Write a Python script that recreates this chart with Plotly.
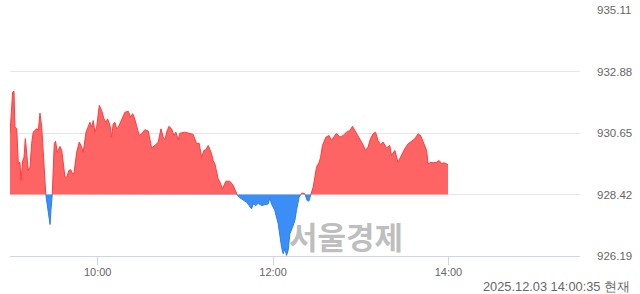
import plotly.graph_objects as go
import pandas as pd

PREV_CLOSE = 928.42
SESSION_DATE = "2025-12-03"

# minutes after 09:00
minutes = [0, 1.8, 2.7, 3.4, 4.6, 5.7, 6.8, 7.5, 8.7, 9.6, 10.5, 11.4, 12.5, 13.7, 14.8, 15.9,
           18.3, 19.4, 20.5, 21.7, 22.8, 24.4, 26, 27.4, 28, 28.9, 30.3, 31.2, 32.3, 34.2, 35.4,
           37.6, 38.8, 40.3, 41.5, 42.9, 43.8, 45.6, 47.4, 49, 50.1, 52, 53.5, 54.7, 55.9, 57,
           58.1, 59.3, 61.1, 62.7, 64.3, 65.6, 66.8, 68.4, 69.5, 70.6, 71.8, 73, 74.1, 76.4,
           78.6, 80.9, 82.5, 83.9, 85, 86.6, 88.4, 90.1, 92.3, 94.6, 96.9, 99.2, 101.4, 103.3,
           104.8, 106, 107.2, 108.7, 110.6, 112.1, 113.5, 115.1, 116.2, 119.7, 121.9, 125.3,
           127.7, 129.4, 131.1, 132.7, 134, 135.6, 137.9, 139, 140.2, 141.3, 142.4, 143.6, 145.4,
           147.7, 150.4, 152.7, 155.4, 157.3, 159.5, 161.9, 163.6, 165.3, 166.4, 168.2, 169.8,
           172.1, 174.4, 176.6, 177.8, 178.9, 181.2, 183.5, 185.8, 186.9, 188, 189.2, 190.3,
           191.5, 193.3, 194.9, 196, 197.8, 199.5, 201.7, 203.3, 204.5, 205.6, 207.4, 208.6,
           209.7, 211.5, 212.5, 213.8, 216.1, 218.3, 220, 222.2, 223.4, 225.7, 227.9, 230.2,
           232.5, 234.3, 235.9, 237.1, 239.3, 241.2, 243.2, 245, 246.6, 248.4, 250.1, 251.8,
           253.5, 255.3, 257.6, 259.8, 261, 263.3, 265.5, 267.8, 270.1, 272.4, 274.7, 277,
           279.2, 280.9, 281.8, 283.2, 285, 286.1, 288, 289.5, 291.8, 293.6, 295.4, 297, 298.6,
           299.7]

index_values = [930.63, 932.13, 932.17, 930.86, 930.81, 929.54, 929.59, 928.93, 929.65, 929.77,
                930.45, 929.90, 929.29, 929.41, 930.27, 930.68, 930.81, 930.74, 931.37, 930.86,
                929.90, 928.46, 927.84, 927.33, 927.84, 928.42, 930.27, 930.35, 929.95, 930.16,
                930.02, 929.05, 929.05, 929.29, 929.32, 929.17, 929.19, 929.95, 930.32, 930.14,
                929.95, 930.68, 930.86, 931.04, 930.86, 931.10, 930.68, 930.86, 931.65, 931.47,
                931.16, 931.04, 931.16, 930.92, 930.50, 930.98, 931.04, 930.80, 930.86, 931.16,
                931.40, 931.44, 931.22, 931.35, 931.22, 930.92, 930.56, 930.62, 930.77, 930.72,
                930.11, 930.20, 930.32, 930.80, 930.50, 930.40, 930.68, 930.89, 930.80, 930.56,
                930.68, 930.40, 930.64, 930.68, 930.64, 930.60, 930.26, 930.28, 929.77, 930.02,
                930.04, 930.20, 929.90, 929.65, 929.53, 929.29, 928.99, 928.87, 928.63, 928.90,
                928.90, 928.75, 928.41, 928.30, 928.23, 928.14, 928.02, 927.90, 928.08, 928.02,
                928.10, 928.02, 928.05, 928.08, 928.30, 928.08, 927.84, 927.36, 926.51, 926.27,
                926.45, 926.21, 926.39, 927.00, 927.23, 927.48, 927.84, 928.32, 928.47, 928.45,
                928.20, 928.18, 928.38, 928.68, 929.05, 929.41, 929.59, 929.77, 930.20, 930.50,
                930.56, 930.38, 930.56, 930.64, 930.50, 930.56, 930.68, 930.74, 930.89, 930.74,
                930.68, 930.44, 930.26, 930.02, 930.14, 930.44, 930.62, 930.68, 930.38, 930.23,
                930.32, 930.11, 930.20, 929.83, 930.02, 929.59, 929.83, 930.08, 930.26, 930.34,
                930.44, 930.62, 930.56, 930.45, 930.26, 930.02, 929.53, 929.59, 929.57, 929.59,
                929.65, 929.54, 929.57, 929.51, 929.50]

y_ticks = [926.19, 928.42, 930.65, 932.88, 935.11]
y_tick_labels = ["926.19", "928.42", "930.65", "932.88", "935.11"]
x_ticks = ["10:00", "12:00", "14:00"]
stamp_text = "2025.12.03 14:00:35 현재"
watermark_text = "서울경제"

# split into above / below previous close, adding the crossing points
xs, vs = [], []
for i in range(len(minutes)):
    if i > 0:
        v0, v1 = index_values[i - 1], index_values[i]
        if (v0 - PREV_CLOSE) * (v1 - PREV_CLOSE) < 0:
            f = (PREV_CLOSE - v0) / (v1 - v0)
            xs.append(minutes[i - 1] + f * (minutes[i] - minutes[i - 1]))
            vs.append(PREV_CLOSE)
    xs.append(minutes[i])
    vs.append(index_values[i])

base = pd.Timestamp(SESSION_DATE + " 09:00")
times = [base + pd.Timedelta(minutes=m) for m in xs]
up = [max(v, PREV_CLOSE) for v in vs]
dn = [min(v, PREV_CLOSE) for v in vs]
up_line = [v if v >= PREV_CLOSE else None for v in vs]
dn_line = [v if v <= PREV_CLOSE else None for v in vs]
baseline = [PREV_CLOSE] * len(vs)

RED_FILL = "#ff6464"
RED_LINE = "#ff3c3c"
BLUE_FILL = "#3b8ef5"
BLUE_LINE = "#2a7ff0"

fig = go.Figure()
common = dict(mode="lines", hoverinfo="skip", showlegend=False)
fig.add_trace(go.Scatter(x=times, y=baseline, line=dict(width=0), **common))
fig.add_trace(go.Scatter(x=times, y=up, fill="tonexty", fillcolor=RED_FILL, line=dict(width=0), **common))
fig.add_trace(go.Scatter(x=times, y=baseline, line=dict(width=0), **common))
fig.add_trace(go.Scatter(x=times, y=dn, fill="tonexty", fillcolor=BLUE_FILL, line=dict(width=0), **common))
fig.add_trace(go.Scatter(x=times, y=up_line, line=dict(color=RED_LINE, width=1), connectgaps=False, **common))
fig.add_trace(go.Scatter(x=times, y=dn_line, line=dict(color=BLUE_LINE, width=1), connectgaps=False, **common))

fig.update_layout(
    width=640, height=294,
    margin=dict(l=10, r=60, t=10, b=38, autoexpand=False),
    paper_bgcolor="white", plot_bgcolor="white",
    font=dict(family="Liberation Sans, Arial, sans-serif", color="#666666", size=11),
    xaxis=dict(
        type="date",
        range=[base, base + pd.Timedelta(minutes=390)],
        tickvals=[pd.Timestamp(SESSION_DATE + " " + t) for t in x_ticks],
        ticktext=x_ticks,
        showgrid=False, zeroline=False,
        showline=True, linecolor="#ccd6eb", linewidth=1,
        ticks="outside", ticklen=8, tickcolor="#ccd6eb", tickwidth=1,
        ticklabelstandoff=-2,
        tickfont=dict(size=11, color="#666666"),
        automargin=False,
        fixedrange=True,
    ),
    yaxis=dict(
        side="right",
        range=[y_ticks[0], y_ticks[-1]],
        tickvals=y_ticks, ticktext=y_tick_labels,
        showgrid=True, gridcolor="#e6e6e6", gridwidth=1,
        zeroline=False, showline=False, ticks="",
        ticklabelstandoff=16,
        tickfont=dict(size=11.5, color="#666666"),
        automargin=False,
        fixedrange=True,
    ),
    annotations=[
        dict(text=watermark_text, xref="paper", yref="paper", x=0.589, y=0.085,
             xanchor="center", yanchor="middle", showarrow=False,
             font=dict(family="Noto Sans CJK KR", size=31, color="rgba(165,165,165,0.72)", weight=700)),
        dict(text=stamp_text, xref="paper", yref="paper", x=1.0914, y=-0.122,
             xanchor="right", yanchor="middle", showarrow=False,
             font=dict(size=12.8, color="#666666")),
    ],
)

fig.write_html("out.html")
